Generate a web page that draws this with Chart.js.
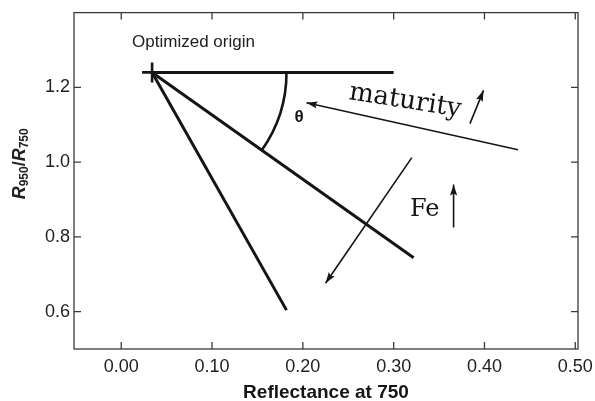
<!DOCTYPE html>
<html>
<head>
<meta charset="utf-8">
<script src="https://cdn.jsdelivr.net/npm/chart.js@4/dist/chart.umd.min.js"></script>
<style>
  html, body { margin: 0; padding: 0; background: #fff; }
  canvas { display: block; }
</style>
</head>
<body>
<canvas id="plot" width="595" height="401"></canvas>
<script>
const xTickValues = [0.0, 0.1, 0.2, 0.3, 0.4, 0.5];
const yTickValues = [0.6, 0.8, 1.0, 1.2];

// optimized origin and the ends of the three lines drawn from it
const originPoint = [0.034, 1.24];
const lineEndsX = [0.30, 0.322, 0.182];
const lineEndsY = [1.24, 0.744, 0.604];

// arrows: tail first, head last
const maturityArrowX = [0.437, 0.204];
const maturityArrowY = [1.033, 1.159];
const feArrowX = [0.320, 0.225];
const feArrowY = [1.012, 0.676];
const maturityUpX = [0.384, 0.399];
const maturityUpY = [1.103, 1.192];
const feUpX = [0.366, 0.366];
const feUpY = [0.825, 0.940];

const arcRadius = 0.148; // in x units

const INK = '#151515';
const FRAME = '#3a3a3a';

function pts(xs, ys) {
    return xs.map((x, i) => ({ x: x, y: ys[i] }));
}

function lineSet(data, width, arrow) {
    return {
        data: data,
        showLine: true,
        borderColor: INK,
        backgroundColor: INK,
        borderWidth: width,
        pointRadius: 0,
        tension: 0,
        arrow: arrow
    };
}

const datasets = [];
for (let i = 0; i < lineEndsX.length; i++) {
    datasets.push(lineSet([{ x: originPoint[0], y: originPoint[1] }, { x: lineEndsX[i], y: lineEndsY[i] }], 3, false));
}
datasets.push(lineSet(pts(maturityArrowX, maturityArrowY), 1.6, true));
datasets.push(lineSet(pts(feArrowX, feArrowY), 1.6, true));
datasets.push(lineSet(pts(maturityUpX, maturityUpY), 1.6, true));
datasets.push(lineSet(pts(feUpX, feUpY), 1.6, true));
datasets.push({
    data: [{ x: originPoint[0], y: originPoint[1] }],
    showLine: false,
    pointStyle: 'cross',
    pointRadius: 10,
    borderWidth: 2.6,
    borderColor: INK
});

Chart.defaults.font.family = "'Liberation Sans', Arial, sans-serif";
Chart.defaults.color = '#222';

// frame, inward ticks on all four sides, arc, arrowheads and labels
const decorations = {
    id: 'decorations',
    afterDatasetsDraw(chart) {
        const ctx = chart.ctx;
        const a = chart.chartArea;
        const xs = chart.scales.x, ys = chart.scales.y;
        ctx.save();

        ctx.strokeStyle = FRAME;
        ctx.lineWidth = 1.3;
        ctx.strokeRect(a.left, a.top, a.right - a.left, a.bottom - a.top);
        const tl = 7;
        ctx.beginPath();
        xTickValues.forEach(v => {
            const px = xs.getPixelForValue(v);
            ctx.moveTo(px, a.bottom); ctx.lineTo(px, a.bottom - tl);
            ctx.moveTo(px, a.top); ctx.lineTo(px, a.top + tl);
        });
        yTickValues.forEach(v => {
            const py = ys.getPixelForValue(v);
            ctx.moveTo(a.left, py); ctx.lineTo(a.left + tl, py);
            ctx.moveTo(a.right, py); ctx.lineTo(a.right - tl, py);
        });
        ctx.stroke();

        // angle arc between the horizontal and the middle line
        const ox = xs.getPixelForValue(originPoint[0]);
        const oy = ys.getPixelForValue(originPoint[1]);
        const r = xs.getPixelForValue(originPoint[0] + arcRadius) - ox;
        const ang = Math.atan2(ys.getPixelForValue(lineEndsY[1]) - oy, xs.getPixelForValue(lineEndsX[1]) - ox);
        ctx.strokeStyle = INK;
        ctx.lineWidth = 2.6;
        ctx.beginPath();
        ctx.arc(ox, oy, r, 0, ang);
        ctx.stroke();

        // arrowheads
        ctx.fillStyle = INK;
        chart.data.datasets.forEach((ds, i) => {
            if (!ds.arrow) return;
            const el = chart.getDatasetMeta(i).data;
            const p0 = el[el.length - 2], p1 = el[el.length - 1];
            const t = Math.atan2(p1.y - p0.y, p1.x - p0.x);
            const len = 11, half = 3.6;
            ctx.save();
            ctx.translate(p1.x, p1.y);
            ctx.rotate(t);
            ctx.beginPath();
            ctx.moveTo(0, 0);
            ctx.lineTo(-len, -half);
            ctx.lineTo(-len + 2, 0);
            ctx.lineTo(-len, half);
            ctx.closePath();
            ctx.fill();
            ctx.restore();
        });

        // labels
        ctx.fillStyle = '#222';
        ctx.textBaseline = 'middle';
        ctx.textAlign = 'left';
        ctx.font = "17px 'Liberation Sans', Arial, sans-serif";
        ctx.fillText('Optimized origin', xs.getPixelForValue(0.012), ys.getPixelForValue(1.32));

        ctx.fillStyle = INK;
        ctx.textAlign = 'center';
        ctx.font = "bold 17px 'Liberation Sans', Arial, sans-serif";
        ctx.fillText('θ', xs.getPixelForValue(0.196), ys.getPixelForValue(1.119));

        ctx.textAlign = 'left';
        ctx.textBaseline = 'alphabetic';
        ctx.font = "26px 'DejaVu Serif', serif";
        ctx.save();
        ctx.translate(xs.getPixelForValue(0.250), ys.getPixelForValue(1.169));
        ctx.rotate(9 * Math.PI / 180);
        ctx.fillText('maturity', 0, 0);
        ctx.restore();

        ctx.font = "24px 'DejaVu Serif', serif";
        ctx.fillText('Fe', xs.getPixelForValue(0.318), ys.getPixelForValue(0.856));

        // y axis title with subscripts
        ctx.save();
        ctx.translate(19, (a.top + a.bottom) / 2 - 17);
        ctx.rotate(-Math.PI / 2);
        const parts = [
            ['R', "italic bold 18px 'Liberation Sans', Arial, sans-serif", 0],
            ['950', "bold 12px 'Liberation Sans', Arial, sans-serif", 5],
            ['/', "bold 18px 'Liberation Sans', Arial, sans-serif", 0],
            ['R', "italic bold 18px 'Liberation Sans', Arial, sans-serif", 0],
            ['750', "bold 12px 'Liberation Sans', Arial, sans-serif", 5]
        ];
        let total = 0;
        parts.forEach(p => { ctx.font = p[1]; total += ctx.measureText(p[0]).width; });
        let cx = -total / 2;
        ctx.textBaseline = 'middle';
        ctx.fillStyle = '#222';
        parts.forEach(p => {
            ctx.font = p[1];
            ctx.fillText(p[0], cx, p[2] + 1);
            cx += ctx.measureText(p[0]).width;
        });
        ctx.restore();

        ctx.restore();
    }
};

new Chart('plot', {
    type: 'scatter',
    data: { datasets: datasets },
    options: {
        responsive: false,
        animation: false,
        layout: { padding: { left: 0, right: 17, top: 10, bottom: 0 } },
        plugins: { legend: { display: false }, tooltip: { enabled: false } },
        scales: {
            x: {
                type: 'linear',
                min: -0.052,
                max: 0.503,
                grid: { display: false, drawTicks: false },
                border: { display: false },
                afterBuildTicks: s => { s.ticks = xTickValues.map(v => ({ value: v })); },
                afterFit: s => {
                    s.height = 52;
                    s.paddingLeft = 0;
                    s.paddingRight = 0;
                },
                ticks: {
                    padding: 7,
                    maxRotation: 0,
                    font: { size: 18 },
                    callback: v => v.toFixed(2)
                },
                title: {
                    display: true,
                    text: 'Reflectance at 750',
                    color: '#151515',
                    font: { size: 19, weight: 'bold' },
                    padding: { top: 0, bottom: -3 }
                }
            },
            y: {
                type: 'linear',
                min: 0.5,
                max: 1.4,
                grid: { display: false, drawTicks: false },
                border: { display: false },
                afterBuildTicks: s => { s.ticks = yTickValues.map(v => ({ value: v })); },
                afterFit: s => {
                    s.width = 74;
                    s.paddingTop = 0;
                    s.paddingBottom = 0;
                },
                ticks: {
                    padding: 4,
                    font: { size: 18 },
                    callback: v => v.toFixed(1)
                }
            }
        }
    },
    plugins: [decorations]
});
</script>
</body>
</html>
